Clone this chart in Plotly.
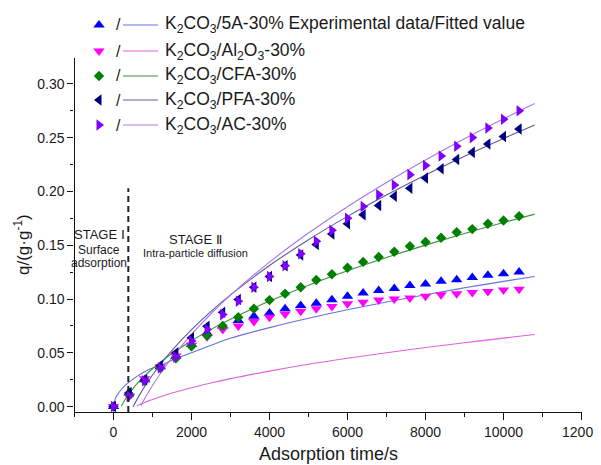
import plotly.graph_objects as go

# ---------------- data ----------------
time_s = [0, 400, 800, 1200, 1600, 2000, 2400, 2800, 3200, 3600, 4000, 4400, 4800,
          5200, 5600, 6000, 6400, 6800, 7200, 7600, 8000, 8400, 8800, 9200, 9600,
          10000, 10400]

q_5A = [0, 0.013, 0.025, 0.037, 0.047, 0.058, 0.0685, 0.075, 0.080, 0.084, 0.087,
        0.091, 0.094, 0.096, 0.0994, 0.1025, 0.1057, 0.108, 0.1097, 0.1125, 0.114,
        0.1165, 0.118, 0.120, 0.122, 0.1236, 0.125]
q_Al2O3 = [0, 0.0096, 0.026, 0.037, 0.047, 0.057, 0.065, 0.0716, 0.075, 0.079, 0.083,
           0.086, 0.0886, 0.091, 0.093, 0.0957, 0.097, 0.099, 0.100, 0.101, 0.1025,
           0.104, 0.105, 0.106, 0.107, 0.1085, 0.109]
q_CFA = [0, 0.011, 0.024, 0.036, 0.045, 0.056, 0.066, 0.075, 0.083, 0.091, 0.099,
         0.105, 0.111, 0.1177, 0.123, 0.129, 0.1345, 0.139, 0.144, 0.149, 0.153,
         0.157, 0.162, 0.165, 0.170, 0.173, 0.177]
q_PFA = [0, 0.013, 0.025, 0.038, 0.050, 0.064, 0.0746, 0.0877, 0.0995, 0.111, 0.121,
         0.131, 0.141, 0.1506, 0.1605, 0.170, 0.1784, 0.187, 0.1955, 0.203, 0.2125,
         0.221, 0.2296, 0.2363, 0.244, 0.251, 0.258]
q_AC = [0, 0.0096, 0.024, 0.036, 0.046, 0.061, 0.0716, 0.0855, 0.098, 0.111, 0.121,
        0.131, 0.142, 0.1536, 0.164, 0.175, 0.186, 0.197, 0.206, 0.2156, 0.224,
        0.233, 0.242, 0.250, 0.259, 0.267, 0.275]

# fitted curves
fit_t = [0, 50, 100, 200, 300, 400, 500, 600, 700, 800, 1000, 1200, 1500, 2000,
         2500, 3000, 4000, 5000, 6000, 7000, 8000, 9000, 10000, 10800]
fit_5A = [0.0, 0.0077, 0.0111, 0.0159, 0.0197, 0.0228, 0.0256, 0.0281, 0.0304,
          0.0325, 0.0358, 0.038, 0.043, 0.050, 0.057, 0.0635, 0.0734, 0.0821,
          0.0900, 0.0973, 0.1040, 0.1104, 0.1164, 0.1210]
fit_Al2O3 = [None, None, None, None, None, None, None, 0.0007, 0.0024, 0.0039,
             0.0067, 0.0092, 0.0126, 0.0176, 0.0220, 0.0260, 0.0330, 0.0393,
             0.0449, 0.0501, 0.0549, 0.0594, 0.0637, 0.0670]
fit_CFA = [None, None, None, 0.0005, 0.0068, 0.0121, 0.0168, 0.0211, 0.0250,
           0.0286, 0.0352, 0.0412, 0.0494, 0.0613, 0.0718, 0.0812, 0.0981,
           0.1129, 0.1263, 0.1386, 0.1501, 0.1609, 0.1711, 0.1789]
fit_PFA = [None, None, None, None, None, None, -0.0003, 0.0065, 0.0128, 0.0187,
           0.0294, 0.0391, 0.0523, 0.0715, 0.0885, 0.1038, 0.1311, 0.1551,
           0.1768, 0.1967, 0.2153, 0.2327, 0.2492, 0.2618]
fit_AC = [None, None, None, None, None, None, None, None, 0.0009, 0.0075, 0.0196,
          0.0306, 0.0454, 0.0671, 0.0863, 0.1036, 0.1343, 0.1613, 0.1858,
          0.2083, 0.2292, 0.2489, 0.2675, 0.2818]

legend_labels = [
    "K<sub>2</sub>CO<sub>3</sub>/5A-30% Experimental data/Fitted value",
    "K<sub>2</sub>CO<sub>3</sub>/Al<sub>2</sub>O<sub>3</sub>-30%",
    "K<sub>2</sub>CO<sub>3</sub>/CFA-30%",
    "K<sub>2</sub>CO<sub>3</sub>/PFA-30%",
    "K<sub>2</sub>CO<sub>3</sub>/AC-30%",
]
stage_boundary_t = 380
stage_line_top = 0.203

# ---------------- styles ----------------
FONT = "Liberation Sans, Arial, sans-serif"
TXT = "#1a1a1a"
series = [
    # data, fit, marker symbol, marker colour, line colour, marker size
    (q_5A, fit_5A, "triangle-up", "#0000ff", "#6470e0", 10),
    (q_Al2O3, fit_Al2O3, "triangle-down", "#ff00ff", "#e060e0", 10),
    (q_CFA, fit_CFA, "diamond", "#008000", "#3f8f3f", 8),
    (q_PFA, fit_PFA, "triangle-left", "#000080", "#5c5c9c", 10),
    (q_AC, fit_AC, "triangle-right", "#8000ff", "#a878e8", 10),
]

# The page body has an 8px margin, so the figure is sized/offset to fit the window.
OFF = 8
W, H = 601 - OFF, 465 - OFF
PL, PR, PT, PB = 74.5, 581.5, 58, 412   # plot area in window pixels


def fx(p):
    return (p - OFF) / W


def fy(p):
    return 1 - (p - OFF) / H


fig = go.Figure()

for data, fit, sym, mcol, lcol, msz in series:
    fig.add_trace(go.Scatter(x=fit_t, y=fit, mode="lines",
                             line=dict(color=lcol, width=1.1),
                             connectgaps=False, line_shape="spline",
                             showlegend=False, hoverinfo="skip"))

for data, fit, sym, mcol, lcol, msz in series:
    fig.add_trace(go.Scatter(x=time_s, y=data, mode="markers",
                             marker=dict(symbol=sym, color=mcol, size=msz,
                                         line=dict(width=0)),
                             showlegend=False))

# ---------------- manual legend (pixel overlay axes) ----------------
row_y = [25, 51, 76, 100, 125]
leg_mx, leg_slash, leg_l0, leg_l1, leg_tx = 99, 118, 123, 158, 163

for i, (data, fit, sym, mcol, lcol, msz) in enumerate(series):
    fig.add_trace(go.Scatter(x=[leg_mx - OFF], y=[row_y[i] - OFF], mode="markers",
                             xaxis="x2", yaxis="y2",
                             marker=dict(symbol=sym, color=mcol, size=msz,
                                         line=dict(width=0)),
                             showlegend=False, hoverinfo="skip"))
    fig.add_shape(type="line", xref="paper", yref="paper",
                  x0=fx(leg_l0), x1=fx(leg_l1), y0=fy(row_y[i]), y1=fy(row_y[i]),
                  line=dict(color=lcol, width=1.1))
    fig.add_annotation(x=fx(leg_slash), y=fy(row_y[i]), xref="paper", yref="paper",
                       text="/", showarrow=False, xanchor="center", yanchor="middle",
                       font=dict(family=FONT, size=16, color=TXT))
    fig.add_annotation(x=fx(leg_tx), y=fy(row_y[i]), xref="paper", yref="paper",
                       text=legend_labels[i], showarrow=False, xanchor="left",
                       yanchor="middle", font=dict(family=FONT, size=17.5, color=TXT))

# ---------------- stage annotations ----------------
fig.add_shape(type="line", xref="x", yref="y",
              x0=stage_boundary_t, x1=stage_boundary_t, y0=-0.005, y1=stage_line_top,
              line=dict(color="#222222", width=2, dash="6px,4px"))

stage_texts = [
    ("STAGE Ⅰ", 99, 234, 13),
    ("Surface", 99, 250, 12),
    ("adsorption", 99, 263, 12),
    ("STAGE Ⅱ", 195, 239, 13),
    ("Intra-particle diffusion", 195, 253, 11),
]
for txt, x, y, s in stage_texts:
    fig.add_annotation(x=fx(x), y=fy(y), xref="paper", yref="paper", showarrow=False,
                       text=txt, xanchor="center", yanchor="middle",
                       font=dict(family=FONT, size=s, color=TXT))

# axis titles
fig.add_annotation(x=fx((PL + PR) / 2), y=fy(454), xref="paper", yref="paper",
                   showarrow=False, text="Adsorption time/s",
                   font=dict(family=FONT, size=18, color=TXT),
                   xanchor="center", yanchor="middle")
fig.add_annotation(x=fx(22), y=fy(245), xref="paper", yref="paper", showarrow=False,
                   text="q/(g·g<sup>-1</sup>)", textangle=-90,
                   font=dict(family=FONT, size=17, color=TXT),
                   xanchor="center", yanchor="middle")

fig.update_layout(
    width=W, height=H,
    margin=dict(l=0, r=0, t=0, b=0, pad=0, autoexpand=False),
    paper_bgcolor="white", plot_bgcolor="rgba(0,0,0,0)",
    showlegend=False,
    font=dict(family=FONT, size=14, color=TXT),
    xaxis=dict(domain=[fx(PL), fx(PR)], anchor="y", automargin=False,
               range=[-1000, 12000], dtick=2000, tick0=0, tickformat="d",
               ticklabeloverflow="allow",
               showgrid=False, zeroline=False, showline=True, linecolor="#111",
               linewidth=1.3, ticks="outside", ticklen=7, tickwidth=1.2,
               tickcolor="#111",
               minor=dict(dtick=1000, ticks="outside", ticklen=4, tickcolor="#111"),
               tickfont=dict(family=FONT, size=14, color=TXT)),
    yaxis=dict(domain=[fy(PB), fy(PT)], anchor="x", automargin=False,
               range=[-0.005, 0.324], dtick=0.05, tick0=0, tickformat=".2f",
               ticklabeloverflow="allow",
               showgrid=False, zeroline=False, showline=True, linecolor="#111",
               linewidth=1.3, ticks="outside", ticklen=6, tickwidth=1.2,
               tickcolor="#111",
               minor=dict(dtick=0.025, ticks="outside", ticklen=3, tickcolor="#111"),
               tickfont=dict(family=FONT, size=14, color=TXT)),
    xaxis2=dict(domain=[0, 1], anchor="y2", range=[0, W], visible=False,
                automargin=False),
    yaxis2=dict(domain=[0, 1], anchor="x2", range=[H, 0], visible=False,
                automargin=False),
)

fig.write_html("out.html")
